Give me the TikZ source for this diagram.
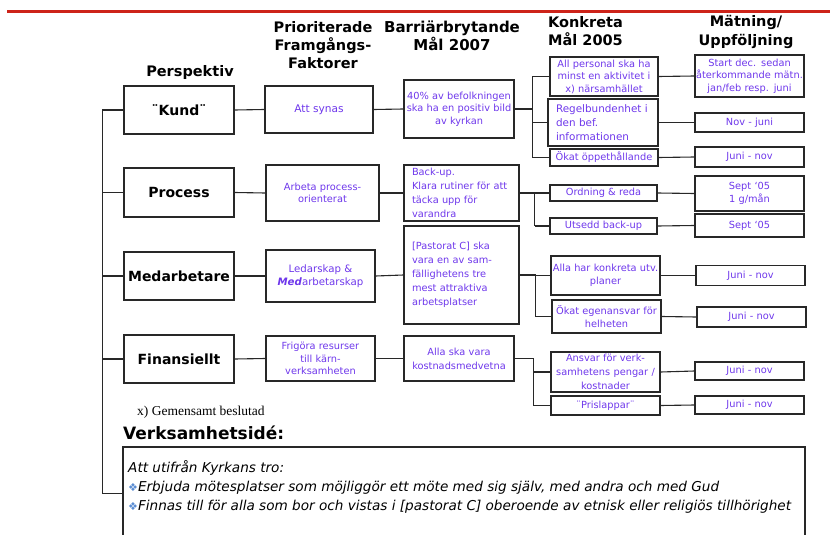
\documentclass[tikz,border=0pt]{standalone}
\usepackage{fontspec}
\setmainfont{DejaVu Sans}
\newfontfamily\serifnote{Liberation Serif}
\definecolor{purp}{RGB}{110,55,235}
\definecolor{redline}{RGB}{205,35,25}
\definecolor{bulletblue}{RGB}{90,140,210}
\definecolor{edge}{RGB}{40,40,40}
\newcommand\ovl[1]{\makebox[\linewidth][c]{#1}}
\begin{document}
\begin{tikzpicture}[x=1pt,y=-1pt,
 box/.style={draw=edge, line width=1.2pt, inner xsep=2pt, inner ysep=0pt, text=purp,
   font=\fontsize{9.8}{12.5}\selectfont, align=center},
 pbox/.style={draw=edge, line width=1.2pt, minimum width=110pt, font=\fontsize{14}{16}\selectfont\bfseries, text=black},
 conn/.style={draw=edge, line width=1.1pt},
 head/.style={font=\fontsize{14.5}{18}\selectfont\bfseries, align=center, inner sep=0pt}
]
\useasboundingbox (0,0) rectangle (830,535);
% red rule
\draw[redline, line width=3pt] (7,12) -- (830,12);

% headers
\node[head, anchor=base] (hpersp) at (190,77) {Perspektiv};
\node[head, anchor=north] (hprio) at (323,21) {Prioriterade\\Framgångs-\\Faktorer};
\node[head, anchor=north, font=\fontsize{15}{18}\selectfont\bfseries] (hbarr) at (452,21) {Barriärbrytande\\Mål 2007};
\node[head, anchor=north west, align=left] (hkonk) at (548,16) {Konkreta\\Mål 2005};
\node[head, anchor=north, font=\fontsize{14.5}{19}\selectfont\bfseries] (hmat) at (746,15) {Mätning/\\Uppföljning};

% column 1
\node[pbox, minimum height=48pt] (kund) at (179,110) {¨Kund¨};
\node[pbox, minimum height=49pt] (proc) at (179,192.5) {Process};
\node[pbox, minimum height=48pt] (medarb) at (179,276) {Medarbetare};
\node[pbox, minimum height=48pt] (finans) at (179,359) {Finansiellt};

% column 2
\node[box, text width=104pt, minimum height=47pt, font=\fontsize{10.6}{12.5}\selectfont] (synas) at (319,109.5) {Att synas};
\node[box, text width=109pt, minimum height=56pt] (arbeta) at (322.5,193) {Arbeta process-\\orienterat};
\node[box, text width=105pt, minimum height=52pt, font=\fontsize{10.2}{13}\selectfont] (ledar) at (320.5,276) {Ledarskap \&\\\textbf{\textit{Med}}arbetarskap};
\node[box, text width=105pt, minimum height=45pt] (frigora) at (320.5,358.5) {Frigöra resurser\\till kärn-\\verksamheten};

% column 3
\node[box, text width=106pt, minimum height=58pt] (mal40) at (459,109) {\ovl{40\% av befolkningen}\\\ovl{ska ha en positiv bild}\\av kyrkan};
\node[box, align=left, inner xsep=8pt, text width=99pt, minimum height=56pt, font=\fontsize{9.8}{14}\selectfont] (backup) at (461.5,193) {Back-up.\\Klara rutiner för att\\täcka upp för\\varandra};
\node[box, align=left, inner xsep=8pt, text width=99pt, minimum height=98pt, font=\fontsize{9.8}{14}\selectfont] (pastorat) at (461.5,275) {[Pastorat C] ska\\vara en av sam-\\fällighetens tre\\mest attraktiva\\arbetsplatser};
\node[box, text width=106pt, minimum height=45pt, font=\fontsize{9.8}{14}\selectfont] (kostn) at (459,358.5) {Alla ska vara\\kostnadsmedvetna};

% column 4
\node[box, text width=104pt, minimum height=39pt] (allpers) at (604,76.5) {All personal ska ha\\minst en aktivitet i\\x) närsamhället};
\node[box, align=left, inner xsep=8pt, text width=94pt, minimum height=47pt, font=\fontsize{10.4}{14}\selectfont] (regel) at (603,122.5) {Regelbundenhet i\\den bef.\\informationen};
\node[box, text width=104pt, minimum height=17pt] (okat) at (604,157.5) {\ovl{Ökat öppethållande}};
\node[box, text width=103pt, minimum height=16pt] (ordning) at (603.5,193) {Ordning \& reda};
\node[box, text width=103pt, minimum height=16pt] (utsedd) at (603.5,226) {Utsedd back-up};
\node[box, text width=105pt, minimum height=39pt] (allahar) at (605.5,275.5) {\ovl{Alla har konkreta utv.}\\planer};
\node[box, text width=105pt, minimum height=33pt] (egen) at (606.5,316.5) {\ovl{Ökat egenansvar för}\\helheten};
\node[box, text width=105pt, minimum height=40pt, font=\fontsize{9.8}{14}\selectfont] (ansvar) at (605.5,372) {Ansvar för verk-\\\ovl{samhetens pengar /}\\kostnader};
\node[box, text width=105pt, minimum height=19pt] (pris) at (605.5,405.5) {¨Prislappar¨};

% column 5
\node[box, text width=105pt, minimum height=42pt] (start) at (749.5,76) {Start dec. sedan\\\ovl{återkommande mätn.}\\jan/feb resp. juni};
\node[box, text width=105pt, minimum height=19pt] (nj) at (749.5,122.5) {Nov - juni};
\node[box, text width=105pt, minimum height=20pt] (jn1) at (749.5,157) {Juni - nov};
\node[box, text width=105pt, minimum height=35pt] (sept1) at (749.5,193.5) {Sept `05\\1 g/mån};
\node[box, text width=105pt, minimum height=23pt] (sept2) at (749.5,225.5) {Sept `05};
\node[box, text width=105pt, minimum height=20pt] (jn2) at (750.5,275.5) {Juni - nov};
\node[box, text width=105pt, minimum height=20pt] (jn3) at (751.5,317) {Juni - nov};
\node[box, text width=105pt, minimum height=18pt] (jn4) at (749.5,371) {Juni - nov};
\node[box, text width=105pt, minimum height=18pt] (jn5) at (749.5,405) {Juni - nov};

% bottom
\node[anchor=base west, font=\serifnote\fontsize{13.5}{15}\selectfont, inner sep=0pt] (note) at (137,415) {x) Gemensamt beslutad};
\node[anchor=base west, font=\fontsize{17}{18}\selectfont\bfseries, inner sep=0pt] (vhead) at (123,439) {Verksamhetsidé:};
\node[draw=edge, line width=1.6pt, minimum width=682pt, minimum height=93pt, inner sep=0pt] (vbox) at (464,493.5) {};
\node[anchor=north west, align=left, inner sep=0pt, font=\fontsize{13.6}{19}\selectfont\itshape] (vtext) at (128,460)
 {Att utifrån Kyrkans tro:\\{\color{bulletblue}\upshape\fontsize{11}{19}\selectfont ❖}Erbjuda mötesplatser som möjliggör ett möte med sig själv, med andra och med Gud\\{\color{bulletblue}\upshape\fontsize{11}{19}\selectfont ❖}Finnas till för alla som bor och vistas i [pastorat C] oberoende av etnisk eller religiös tillhörighet};

% left spine
\path (kund.west) ++(-21,0) coordinate (L);
\draw[conn] (L) -- (kund.west);
\draw[conn] (L |- proc.west) -- (proc.west);
\draw[conn] (L |- medarb.west) -- (medarb.west);
\draw[conn] (L |- finans.west) -- (finans.west);
\draw[conn] (L) |- (vbox.west);

% col1 -> col2 -> col3
\draw[conn] (kund.east) -- (synas.west);
\draw[conn] (proc.east) -- (arbeta.west);
\draw[conn] (medarb.east) -- (ledar.west);
\draw[conn] (finans.east) -- (frigora.west);
\draw[conn] (synas.east) -- (mal40.west);
\draw[conn] (arbeta.east) -- (backup.west);
\draw[conn] (ledar.east) -- (pastorat.west);
\draw[conn] (frigora.east) -- (kostn.west);

% brackets col3 -> col4
\path (mal40.east) ++(18,0) coordinate (bk);
\draw[conn] (mal40.east) -- (bk);
\draw[conn] (bk |- allpers.west) -- (bk |- okat.west);
\draw[conn] (bk |- allpers.west) -- (allpers.west);
\draw[conn] (bk |- regel.west) -- (regel.west);
\draw[conn] (bk |- okat.west) -- (okat.west);

\path (backup.east) ++(15,0) coordinate (bp);
\draw[conn] (backup.east) -- (bp);
\draw[conn] (bp |- ordning.west) -- (bp |- utsedd.west);
\draw[conn] (bp |- ordning.west) -- (ordning.west);
\draw[conn] (bp |- utsedd.west) -- (utsedd.west);

\path (pastorat.east) ++(16,0) coordinate (bm);
\draw[conn] (pastorat.east) -- (bm);
\draw[conn] (bm |- allahar.west) -- (bm |- egen.west);
\draw[conn] (bm |- allahar.west) -- (allahar.west);
\draw[conn] (bm |- egen.west) -- (egen.west);

\path (kostn.east) ++(19,0) coordinate (bf);
\draw[conn] (kostn.east) -- (bf);
\draw[conn] (bf) -- (bf |- pris.west);
\draw[conn] (bf |- ansvar.west) -- (ansvar.west);
\draw[conn] (bf |- pris.west) -- (pris.west);

% col4 -> col5
\draw[conn] (allpers.east) -- (start.west);
\draw[conn] (regel.east) -- (nj.west);
\draw[conn] (okat.east) -- (jn1.west);
\draw[conn] (ordning.east) -- (sept1.west);
\draw[conn] (utsedd.east) -- (sept2.west);
\draw[conn] (allahar.east) -- (jn2.west);
\draw[conn] (egen.east) -- (jn3.west);
\draw[conn] (ansvar.east) -- (jn4.west);
\draw[conn] (pris.east) -- (jn5.west);
\end{tikzpicture}
\end{document}
